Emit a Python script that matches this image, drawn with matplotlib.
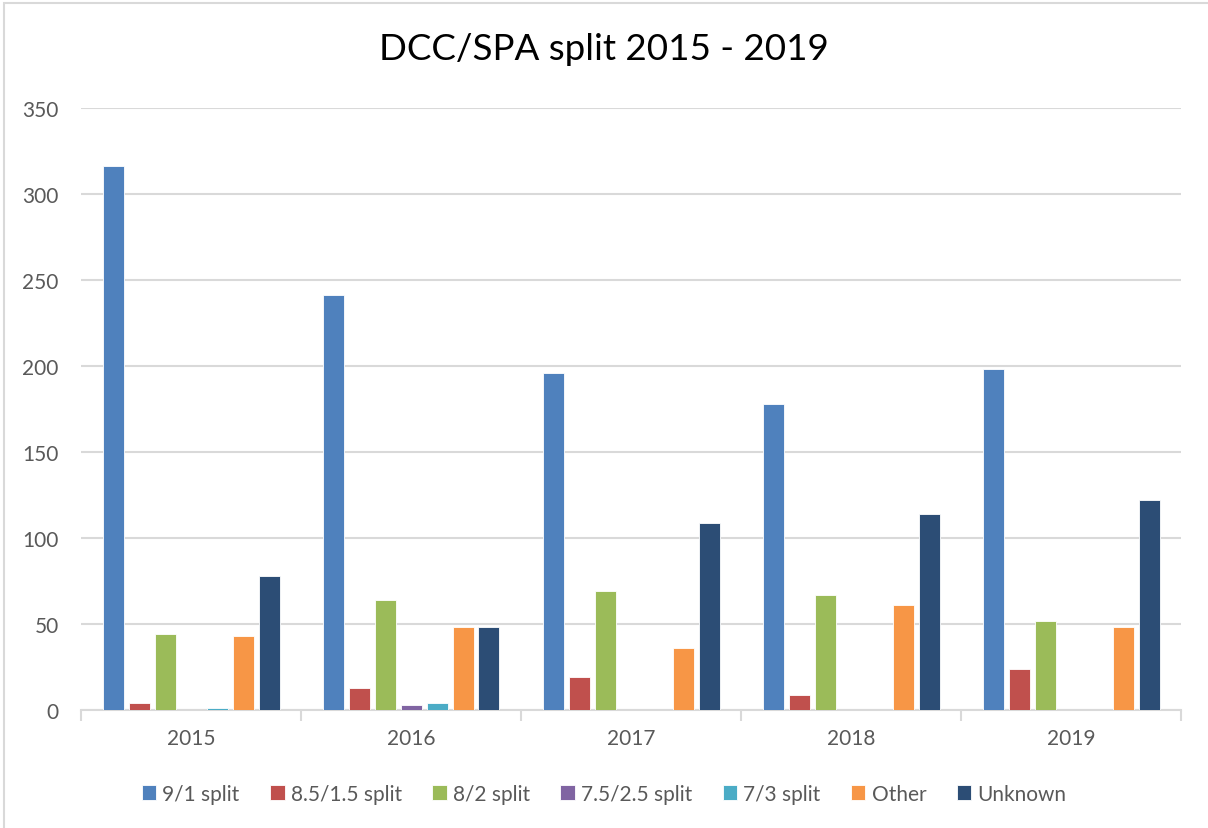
import numpy as np
import matplotlib.pyplot as plt
from matplotlib.patches import Rectangle

# --------------------------------------------------
# Data
# --------------------------------------------------
years = ['2015', '2016', '2017', '2018', '2019']
series_names = ['9/1 split', '8.5/1.5 split', '8/2 split', '7.5/2.5 split',
                '7/3 split', 'Other', 'Unknown']
split_9_1 = [316, 241, 196, 178, 198]
split_85_15 = [4, 13, 19, 9, 24]
split_8_2 = [44, 64, 69, 67, 52]
split_75_25 = [0, 3, 0, 0, 0]
split_7_3 = [1, 4, 0, 0, 0]
other = [43, 48, 36, 61, 48]
unknown = [78, 48, 109, 114, 122]

colours = ['#4F81BD', '#C0504D', '#9BBB59', '#8064A2',
           '#4BACC6', '#F79646', '#2C4D75']

plt.rcParams['font.family'] = ['Lato', 'DejaVu Sans']

fig = plt.figure(figsize=(12.08, 8.29), dpi=100)
W, H = 1208, 829
ax = fig.add_axes([81 / W, 1 - 711 / H, 1100 / W, 602 / H])

# chart border
fig.patches.append(Rectangle((4 / W, -0.1), 1.2, 1 - 4 / H + 0.1,
                             transform=fig.transFigure, fill=False,
                             edgecolor='#D9D9D9', linewidth=1.5))

all_series = [split_9_1, split_85_15, split_8_2, split_75_25,
              split_7_3, other, unknown]
x = np.arange(len(years))
slot = 26 / 220
width = 21 / 220
for i, (vals, name, col) in enumerate(zip(all_series, series_names, colours)):
    ax.bar(x + (i - 3) * slot, vals, width, color=col, label=name,
           edgecolor='white', linewidth=0.6, zorder=3)

ax.set_xlim(-0.5, len(years) - 0.5)
ax.set_ylim(0, 350)
ax.set_yticks(np.arange(0, 351, 50))
ax.yaxis.grid(True, color='#D9D9D9', linewidth=1.5, zorder=0)
ax.set_axisbelow(True)

for s in ['top', 'right', 'left']:
    ax.spines[s].set_visible(False)
ax.spines['bottom'].set_color('#D9D9D9')
ax.spines['bottom'].set_linewidth(1.5)

ax.set_xticks(x)
ax.set_xticklabels(years)
ax.set_xticks(np.arange(-0.5, len(years), 1), minor=True)
ax.tick_params(axis='x', which='major', length=0, pad=13,
               labelsize=15, labelcolor='#595959')
ax.tick_params(axis='x', which='minor', length=8, width=1.5,
               color='#D9D9D9', direction='out')
ax.tick_params(axis='y', length=0, pad=16, labelsize=15,
               labelcolor='#595959')

fig.text(0.5, 1 - 50 / H, 'DCC/SPA split 2015 - 2019', ha='center',
         va='center', fontsize=26.5, color='black')

leg = fig.legend(loc='center', bbox_to_anchor=(0.5, 1 - 795 / H), ncol=7,
                 frameon=False, fontsize=15, handlelength=0.7,
                 handleheight=0.7, handletextpad=0.3, columnspacing=1.45,
                 labelcolor='#595959')

fig.savefig('out.png', dpi=100, facecolor='white')
